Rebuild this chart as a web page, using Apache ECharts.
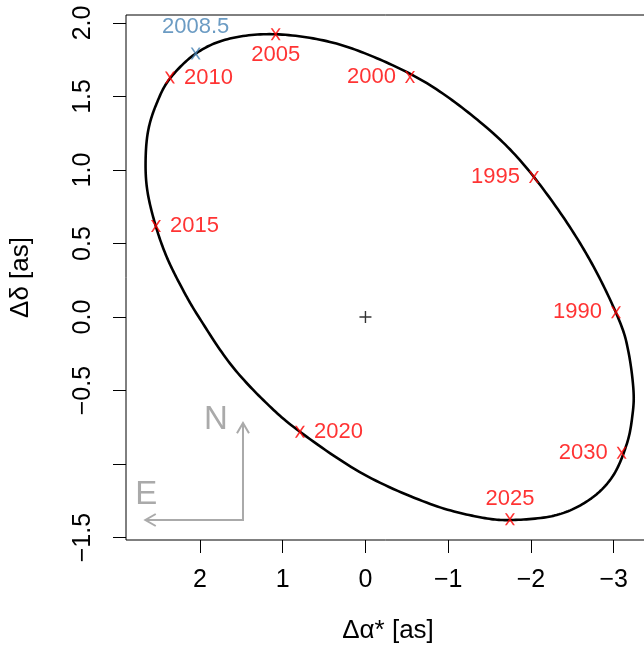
<!DOCTYPE html>
<html>
<head>
<meta charset="utf-8">
<script src="https://cdn.jsdelivr.net/npm/echarts@6/dist/echarts.min.js"></script>
<style>
html,body{margin:0;padding:0;background:#fff;}
#chart{width:644px;height:648px;}
</style>
</head>
<body>
<div id="chart"></div>
<script>
// ---- data ----
const years = ['1990', '1995', '2000', '2005', '2010', '2015', '2020', '2025', '2030'];
const yearX = [-3.028, -2.036, -0.538, 1.085, 2.363, 2.532, 0.792, -1.746, -3.096];
const yearY = [0.033, 0.953, 1.633, 1.923, 1.629, 0.620, -0.780, -1.375, -0.922];

const refLabel = ['2008.5'];
const refX = [2.052];
const refY = [1.792];

const ellipseX = [1.085, 0.429, -0.175, -0.780, -1.384, -1.867, -2.356, -2.757, -3.070, -3.179, -3.239, -3.227,
  -3.160, -2.990, -2.710, -2.311, -1.786, -1.384, -0.783, 0.024, 0.792, 1.235, 1.638, 2.003, 2.204, 2.403,
  2.544, 2.637, 2.657, 2.625, 2.524, 2.363, 2.040, 1.638];
const ellipseY = [1.923, 1.871, 1.751, 1.577, 1.327, 1.067, 0.708, 0.343, -0.027, -0.238, -0.496, -0.666,
  -0.860, -1.081, -1.241, -1.346, -1.380, -1.361, -1.271, -1.068, -0.780, -0.564, -0.315, -0.010, 0.183, 0.410,
  0.637, 0.863, 1.067, 1.271, 1.452, 1.622, 1.796, 1.894];

const centerX = [0];
const centerY = [0];

const xTicks = [-3, -2, -1, 0, 1, 2];
const yTicks = [-1.5, -1, -0.5, 0, 0.5, 1, 1.5, 2];
const yTickLabels = [-1.5, -0.5, 0, 0.5, 1, 1.5, 2];

const compassCorner = [1.48, -1.38];
const compassEast = [2.66, -1.38];
const compassNorth = [1.48, -0.72];

// ---- styles ----
const FONT = '"Liberation Sans", Arial, Helvetica, sans-serif';
const RED = '#FF0000';
const BLUE = '#4682B4';
const GRAY = '#AAAAAA';
const X_PATH = 'path://M0,0 L1.9,0 L5,4.6 L8.1,0 L10,0 L6,6 L10,12 L8.1,12 L5,7.4 L1.9,12 L0,12 L4,6 Z';
const PLUS_PATH = 'path://M0,5.3 L12,5.3 L12,6.7 L0,6.7 Z M5.3,0 L6.7,0 L6.7,12 L5.3,12 Z';
const labelPlacement = {
  '1990': ['left', 9], '1995': ['left', 9], '2000': ['left', 9], '2005': ['bottom', 4],
  '2010': ['right', 9], '2015': ['right', 9], '2020': ['right', 9], '2025': ['top', 3], '2030': ['left', 9]
};
const minus = s => String(s).replace('-', '\u2212');

const chart = echarts.init(document.getElementById('chart'), null, {renderer: 'canvas'});

const ellipseData = ellipseX.map((x, i) => [x, ellipseY[i]]);

// closed smooth curve through the read points (drawn in pixel space via the axes)
function renderEllipse(params, api) {
  if (params.dataIndex !== 0) return null;
  const p = ellipseData.map(d => api.coord(d));
  const n = p.length, out = [], steps = 16;
  for (let i = 0; i < n; i++) {
    const p0 = p[(i - 1 + n) % n], p1 = p[i], p2 = p[(i + 1) % n], p3 = p[(i + 2) % n];
    const c1 = [p1[0] + (p2[0] - p0[0]) / 6, p1[1] + (p2[1] - p0[1]) / 6];
    const c2 = [p2[0] - (p3[0] - p1[0]) / 6, p2[1] - (p3[1] - p1[1]) / 6];
    for (let s = 0; s < steps; s++) {
      const t = s / steps, u = 1 - t;
      const a = u * u * u, b = 3 * u * u * t, c = 3 * u * t * t, d = t * t * t;
      out.push([a * p1[0] + b * c1[0] + c * c2[0] + d * p2[0], a * p1[1] + b * c1[1] + c * c2[1] + d * p2[1]]);
    }
  }
  out.push(out[0]);
  return {type: 'polyline', shape: {points: out}, style: {stroke: '#000', lineWidth: 2.6, fill: null, lineJoin: 'round'}};
}

const yearData = years.map((y, i) => ({
  value: [yearX[i], yearY[i]],
  name: y,
  label: {
    show: true, formatter: y, position: labelPlacement[y][0], distance: labelPlacement[y][1],
    color: RED, fontSize: 22, fontFamily: FONT
  }
}));

const refData = refLabel.map((y, i) => ({
  value: [refX[i], refY[i]],
  name: y,
  label: {show: true, formatter: y, position: 'top', distance: 10, color: BLUE, fontSize: 22, fontFamily: FONT}
}));

const option = {
  animation: false,
  backgroundColor: '#ffffff',
  grid: {left: 126, top: 15, width: 524, bottom: 108, show: true, borderColor: '#000', borderWidth: 1,
    containLabel: false, outerBoundsMode: 'none'},
  xAxis: {
    type: 'value', inverse: true, min: -3.439, max: 2.894,
    name: '\u0394\u03b1* [as]', nameLocation: 'middle', nameGap: 78,
    nameTextStyle: {fontSize: 26, fontFamily: FONT, color: '#000'},
    axisLine: {show: false, onZero: false},
    splitLine: {show: false},
    axisTick: {show: true, inside: false, length: 13, lineStyle: {color: '#000', width: 1}, customValues: xTicks},
    axisLabel: {show: true, customValues: xTicks, margin: 28, fontSize: 25, fontFamily: FONT, color: '#000',
      formatter: v => minus(v)}
  },
  yAxis: {
    type: 'value', min: -1.516, max: 2.054,
    name: '\u0394\u03b4 [as]', nameLocation: 'middle', nameGap: 92, nameRotate: 90,
    nameTextStyle: {fontSize: 26, fontFamily: FONT, color: '#000'},
    axisLine: {show: false, onZero: false},
    splitLine: {show: false},
    axisTick: {show: true, inside: false, length: 13, lineStyle: {color: '#000', width: 1}, customValues: yTicks},
    axisLabel: {show: true, customValues: yTickLabels, rotate: 90, margin: 30, fontSize: 25, fontFamily: FONT, color: '#000',
      formatter: v => minus(Number(v).toFixed(1))}
  },
  series: [
    {
      type: 'custom', data: ellipseData, encode: {x: 0, y: 1}, renderItem: renderEllipse, z: 2, silent: true
    },
    {
      type: 'scatter', data: yearData, symbol: X_PATH, symbolSize: [10, 12],
      itemStyle: {color: RED}, z: 3, silent: true
    },
    {
      type: 'scatter', data: refData, symbol: X_PATH, symbolSize: [10, 12],
      itemStyle: {color: BLUE}, z: 3, silent: true
    },
    {
      type: 'scatter', data: centerX.map((x, i) => [x, centerY[i]]), symbol: PLUS_PATH, symbolSize: [12, 12],
      itemStyle: {color: '#000'}, z: 3, silent: true
    }
  ]
};
chart.setOption(option);

// compass arrows placed through the axes' scales
const c = chart.convertToPixel({gridIndex: 0}, compassCorner);
const e = chart.convertToPixel({gridIndex: 0}, compassEast);
const n = chart.convertToPixel({gridIndex: 0}, compassNorth);
const head = 12, ang = Math.PI / 6;
const hx = head * Math.cos(ang), hy = head * Math.sin(ang);
chart.setOption({
  graphic: [
    {type: 'polyline', shape: {points: [e, c, n]}, style: {stroke: GRAY, lineWidth: 2, fill: null}, z: 5},
    {type: 'polyline', shape: {points: [[e[0] + hx, e[1] - hy], e, [e[0] + hx, e[1] + hy]]}, style: {stroke: GRAY, lineWidth: 2, fill: null}, z: 5},
    {type: 'polyline', shape: {points: [[n[0] - hy, n[1] + hx], n, [n[0] + hy, n[1] + hx]]}, style: {stroke: GRAY, lineWidth: 2, fill: null}, z: 5},
    {type: 'text', x: e[0] + 1, y: e[1] - 25, style: {text: 'E', fill: GRAY, fontSize: 33, fontFamily: FONT, align: 'center', verticalAlign: 'middle'}, z: 5},
    {type: 'text', x: n[0] - 27, y: n[1] - 3, style: {text: 'N', fill: GRAY, fontSize: 33, fontFamily: FONT, align: 'center', verticalAlign: 'middle'}, z: 5}
  ]
});
</script>
</body>
</html>
